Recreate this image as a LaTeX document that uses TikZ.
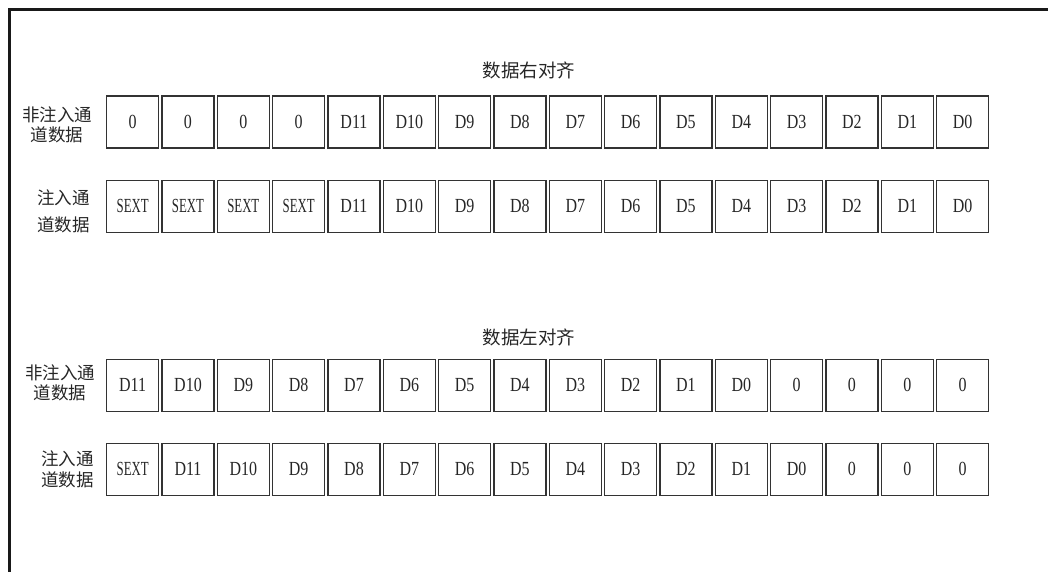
\documentclass[tikz,border=0pt]{standalone}
\usepackage{fontspec}
\setmainfont{Liberation Serif}
\newfontfamily\cjk{Noto Sans CJK SC}
\newfontfamily\narrowf[FakeStretch=0.8]{Liberation Serif}
\newfontfamily\sextf[FakeStretch=0.64]{Liberation Serif}
\newcommand\SX{{\sextf SEXT}}
\begin{document}
\begin{tikzpicture}[x=1pt,y=-1pt,
  bit/.style={draw=black!80, line width=1.3pt, minimum width=52pt, minimum height=52pt,
    inner sep=0pt, anchor=north west, text=black!85,
    font=\narrowf\fontsize{20}{20}\selectfont},
  rowlabel/.style={align=center, text=black!85, inner sep=0pt,
    font=\cjk\fontsize{17.5}{20.5}\selectfont},
  title/.style={text=black!85, inner sep=0pt, font=\cjk\fontsize{18.5}{20}\selectfont}]
\useasboundingbox (0,0) rectangle (1048,572);
% frame
\draw[line width=3pt, black!90] (1050,10) -- (9.5,10) -- (9.5,574);
% titles
\node[title] (t1) at (529,70) {数据右对齐};
\node[title] (t2) at (529,337.5) {数据左对齐};
% row labels
\node[rowlabel] (l1) at (57,125) {非注入通\\道数据};
\node[rowlabel, font=\cjk\fontsize{17.5}{26.5}\selectfont] (l2) at (63.5,211.5) {注入通\\道数据};
\node[rowlabel] (l3) at (60,383) {非注入通\\道数据};
\node[rowlabel] (l4) at (67.5,469.5) {注入通\\道数据};
% rows of bits
\foreach \t [count=\i from 0] in {0,0,0,0,D11,D10,D9,D8,D7,D6,D5,D4,D3,D2,D1,D0}
  \node[bit] (a\i) at ({106+55.33*\i},95.5) {\t};
\foreach \t [count=\i from 0] in {\SX,\SX,\SX,\SX,D11,D10,D9,D8,D7,D6,D5,D4,D3,D2,D1,D0}
  \node[bit] (b\i) at ({106+55.33*\i},179.5) {\t};
\foreach \t [count=\i from 0] in {D11,D10,D9,D8,D7,D6,D5,D4,D3,D2,D1,D0,0,0,0,0}
  \node[bit] (c\i) at ({106+55.33*\i},358.5) {\t};
\foreach \t [count=\i from 0] in {\SX,D11,D10,D9,D8,D7,D6,D5,D4,D3,D2,D1,D0,0,0,0}
  \node[bit] (d\i) at ({106+55.33*\i},442.5) {\t};
\end{tikzpicture}
\end{document}
